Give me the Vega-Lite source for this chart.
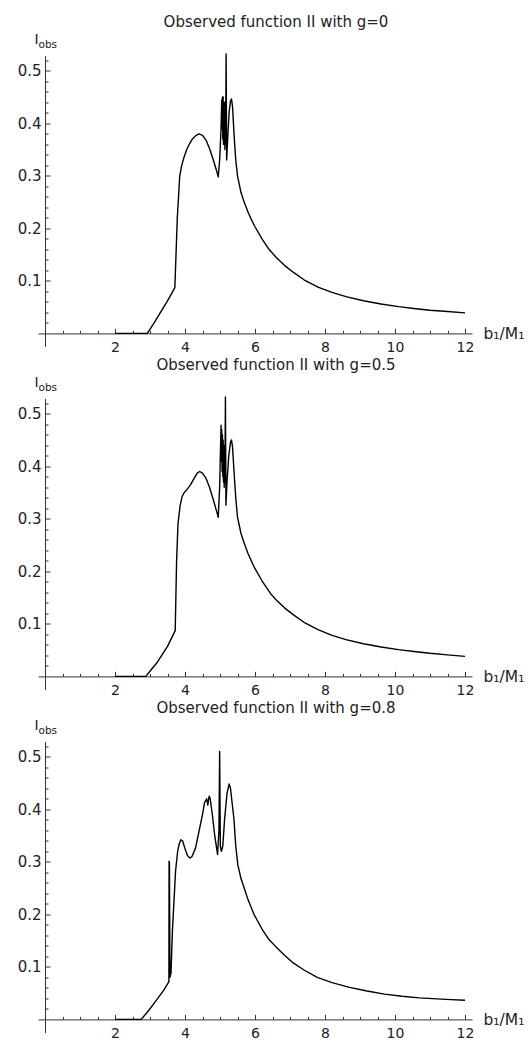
{
  "$schema": "https://vega.github.io/schema/vega-lite/v6.json",
  "padding": {"left": 17, "top": 14.5, "right": 0, "bottom": 0},
  "spacing": 52,
  "bounds": "flush",
  "config": {
    "view": {"stroke": null},
    "font": "DejaVu Sans",
    "axis": {"grid": false, "domainColor": "#333", "tickColor": "#333", "labelColor": "#222", "titleColor": "#222", "labelFont": "DejaVu Sans", "titleFont": "DejaVu Sans", "labelFlush": false, "labelOverlap": false, "titleFontWeight": "normal", "titleAngle": 0, "titleAlign": "left", "titleBaseline": "alphabetic"},
    "title": {"fontSize": 15, "fontWeight": "normal", "color": "#222", "anchor": "middle", "frame": "group", "dx": 21, "offset": 3, "baseline": "alphabetic"}
  },
  "datasets": {
    "g0": [
      {"x": 2.0, "y": 0}, {"x": 2.92, "y": 0}, {"x": 3.1, "y": 0.018}, {"x": 3.3, "y": 0.04}, {"x": 3.5, "y": 0.062}, {"x": 3.71, "y": 0.087},
      {"x": 3.78, "y": 0.22}, {"x": 3.85, "y": 0.3}, {"x": 3.9, "y": 0.318}, {"x": 3.97, "y": 0.335}, {"x": 4.05, "y": 0.35}, {"x": 4.12, "y": 0.36},
      {"x": 4.2, "y": 0.369}, {"x": 4.3, "y": 0.376}, {"x": 4.4, "y": 0.38}, {"x": 4.5, "y": 0.377}, {"x": 4.6, "y": 0.368}, {"x": 4.7, "y": 0.352},
      {"x": 4.8, "y": 0.332}, {"x": 4.9, "y": 0.31}, {"x": 4.95, "y": 0.298}, {"x": 4.99, "y": 0.33}, {"x": 5.03, "y": 0.39}, {"x": 5.05, "y": 0.445},
      {"x": 5.06, "y": 0.39}, {"x": 5.07, "y": 0.45}, {"x": 5.08, "y": 0.37}, {"x": 5.09, "y": 0.45}, {"x": 5.1, "y": 0.36}, {"x": 5.11, "y": 0.44},
      {"x": 5.12, "y": 0.36}, {"x": 5.13, "y": 0.44}, {"x": 5.14, "y": 0.35}, {"x": 5.15, "y": 0.43}, {"x": 5.16, "y": 0.36}, {"x": 5.175, "y": 0.532},
      {"x": 5.19, "y": 0.33}, {"x": 5.22, "y": 0.37}, {"x": 5.26, "y": 0.42}, {"x": 5.3, "y": 0.443}, {"x": 5.33, "y": 0.446}, {"x": 5.36, "y": 0.43},
      {"x": 5.4, "y": 0.38}, {"x": 5.45, "y": 0.33}, {"x": 5.5, "y": 0.3}, {"x": 5.6, "y": 0.268}, {"x": 5.7, "y": 0.248}, {"x": 5.8, "y": 0.231},
      {"x": 5.9, "y": 0.216}, {"x": 6.0, "y": 0.203}, {"x": 6.2, "y": 0.18}, {"x": 6.4, "y": 0.16}, {"x": 6.6, "y": 0.145}, {"x": 6.85, "y": 0.129},
      {"x": 7.1, "y": 0.116}, {"x": 7.4, "y": 0.102}, {"x": 7.8, "y": 0.088}, {"x": 8.2, "y": 0.078}, {"x": 8.6, "y": 0.07}, {"x": 9.1, "y": 0.062},
      {"x": 9.6, "y": 0.056}, {"x": 10.1, "y": 0.051}, {"x": 10.6, "y": 0.047}, {"x": 11.0, "y": 0.044}, {"x": 11.5, "y": 0.0415}, {"x": 12.0, "y": 0.039}
    ],
    "g05": [
      {"x": 2.0, "y": 0}, {"x": 2.88, "y": 0}, {"x": 3.05, "y": 0.014}, {"x": 3.21, "y": 0.027}, {"x": 3.5, "y": 0.057}, {"x": 3.72, "y": 0.087},
      {"x": 3.76, "y": 0.22}, {"x": 3.8, "y": 0.29}, {"x": 3.86, "y": 0.325}, {"x": 3.92, "y": 0.343}, {"x": 3.98, "y": 0.35}, {"x": 4.06, "y": 0.356},
      {"x": 4.16, "y": 0.365}, {"x": 4.26, "y": 0.377}, {"x": 4.35, "y": 0.387}, {"x": 4.42, "y": 0.39}, {"x": 4.5, "y": 0.387}, {"x": 4.6, "y": 0.377},
      {"x": 4.7, "y": 0.36}, {"x": 4.8, "y": 0.338}, {"x": 4.9, "y": 0.315}, {"x": 4.95, "y": 0.303}, {"x": 4.99, "y": 0.36}, {"x": 5.03, "y": 0.478},
      {"x": 5.04, "y": 0.41}, {"x": 5.05, "y": 0.47}, {"x": 5.06, "y": 0.39}, {"x": 5.07, "y": 0.46}, {"x": 5.08, "y": 0.38}, {"x": 5.09, "y": 0.45},
      {"x": 5.1, "y": 0.37}, {"x": 5.11, "y": 0.44}, {"x": 5.12, "y": 0.36}, {"x": 5.13, "y": 0.43}, {"x": 5.14, "y": 0.37}, {"x": 5.155, "y": 0.532},
      {"x": 5.17, "y": 0.326}, {"x": 5.2, "y": 0.37}, {"x": 5.25, "y": 0.42}, {"x": 5.3, "y": 0.446}, {"x": 5.33, "y": 0.45}, {"x": 5.36, "y": 0.435},
      {"x": 5.4, "y": 0.39}, {"x": 5.45, "y": 0.34}, {"x": 5.5, "y": 0.303}, {"x": 5.6, "y": 0.272}, {"x": 5.7, "y": 0.252}, {"x": 5.8, "y": 0.234},
      {"x": 5.9, "y": 0.219}, {"x": 6.0, "y": 0.205}, {"x": 6.2, "y": 0.182}, {"x": 6.45, "y": 0.157}, {"x": 6.6, "y": 0.146}, {"x": 6.85, "y": 0.13},
      {"x": 7.1, "y": 0.117}, {"x": 7.4, "y": 0.103}, {"x": 7.8, "y": 0.089}, {"x": 8.2, "y": 0.078}, {"x": 8.6, "y": 0.07}, {"x": 9.1, "y": 0.062},
      {"x": 9.6, "y": 0.056}, {"x": 10.1, "y": 0.051}, {"x": 10.6, "y": 0.047}, {"x": 11.0, "y": 0.044}, {"x": 11.5, "y": 0.041}, {"x": 12.0, "y": 0.038}
    ],
    "g08": [
      {"x": 2.0, "y": 0}, {"x": 2.75, "y": 0}, {"x": 2.95, "y": 0.016}, {"x": 3.12, "y": 0.031}, {"x": 3.4, "y": 0.056}, {"x": 3.54, "y": 0.072},
      {"x": 3.545, "y": 0.301}, {"x": 3.555, "y": 0.298}, {"x": 3.57, "y": 0.08}, {"x": 3.6, "y": 0.088}, {"x": 3.64, "y": 0.168}, {"x": 3.73, "y": 0.282},
      {"x": 3.79, "y": 0.32}, {"x": 3.83, "y": 0.333}, {"x": 3.88, "y": 0.342}, {"x": 3.93, "y": 0.34}, {"x": 4.0, "y": 0.325}, {"x": 4.07, "y": 0.312},
      {"x": 4.14, "y": 0.307}, {"x": 4.2, "y": 0.31}, {"x": 4.3, "y": 0.326}, {"x": 4.4, "y": 0.358}, {"x": 4.5, "y": 0.39}, {"x": 4.56, "y": 0.413},
      {"x": 4.62, "y": 0.42}, {"x": 4.65, "y": 0.408}, {"x": 4.69, "y": 0.425}, {"x": 4.72, "y": 0.42}, {"x": 4.78, "y": 0.39}, {"x": 4.85, "y": 0.35},
      {"x": 4.93, "y": 0.314}, {"x": 4.97, "y": 0.36}, {"x": 4.99, "y": 0.51}, {"x": 5.01, "y": 0.33}, {"x": 5.04, "y": 0.32}, {"x": 5.08, "y": 0.33},
      {"x": 5.13, "y": 0.38}, {"x": 5.2, "y": 0.43}, {"x": 5.26, "y": 0.448}, {"x": 5.3, "y": 0.44}, {"x": 5.35, "y": 0.41}, {"x": 5.4, "y": 0.38},
      {"x": 5.45, "y": 0.33}, {"x": 5.51, "y": 0.294}, {"x": 5.6, "y": 0.268}, {"x": 5.69, "y": 0.25}, {"x": 5.8, "y": 0.228}, {"x": 5.97, "y": 0.2},
      {"x": 6.2, "y": 0.172}, {"x": 6.4, "y": 0.152}, {"x": 6.6, "y": 0.138}, {"x": 6.83, "y": 0.123}, {"x": 7.1, "y": 0.107}, {"x": 7.4, "y": 0.094},
      {"x": 7.78, "y": 0.08}, {"x": 8.2, "y": 0.07}, {"x": 8.7, "y": 0.061}, {"x": 9.2, "y": 0.054}, {"x": 9.7, "y": 0.048}, {"x": 10.2, "y": 0.044},
      {"x": 10.7, "y": 0.041}, {"x": 11.2, "y": 0.039}, {"x": 11.6, "y": 0.0375}, {"x": 12.0, "y": 0.0365}
    ]
  },
  "vconcat": [
    {
      "width": 434, "height": 291,
      "title": {"text": "Observed function II with g=0"},
      "data": {"name": "g0"},
      "resolve": {"axis": {"x": "independent", "y": "independent"}},
      "layer": [
        {
          "mark": {"type": "line", "color": "#000", "strokeWidth": 1.4, "strokeJoin": "round"},
          "encoding": {
            "x": {"field": "x", "type": "quantitative", "scale": {"domain": [-0.2, 12.2], "nice": false, "zero": false},
              "axis": {"orient": "bottom", "offset": -13.1, "values": [2, 4, 6, 8, 10, 12], "format": "d", "tickSize": -5, "labelPadding": 12.5, "labelFontSize": 14, "labelBaseline": "top",
                "title": "b₁/M₁", "titleX": 445, "titleY": 5, "titleFontSize": 15.5}},
            "y": {"field": "y", "type": "quantitative", "scale": {"domain": [-0.025, 0.529], "nice": false, "zero": false},
              "axis": {"orient": "left", "offset": -7, "values": [0.1, 0.2, 0.3, 0.4, 0.5], "format": ".1f", "tickSize": -5, "labelPadding": 9, "labelFontSize": 15,
                "title": "I", "titleX": -11, "titleY": -12, "titleFontSize": 14}}
          }
        },
        {
          "mark": {"type": "line", "opacity": 0},
          "encoding": {
            "x": {"field": "x", "type": "quantitative",
              "axis": {"orient": "bottom", "offset": -13.1, "values": [0.5, 1, 1.5, 2.5, 3, 3.5, 4.5, 5, 5.5, 6.5, 7, 7.5, 8.5, 9, 9.5, 10.5, 11, 11.5], "tickSize": -3, "labels": false, "domain": false, "title": null}},
            "y": {"field": "y", "type": "quantitative",
              "axis": {"orient": "left", "offset": -7, "values": [0.02, 0.04, 0.06, 0.08, 0.12, 0.14, 0.16, 0.18, 0.22, 0.24, 0.26, 0.28, 0.32, 0.34, 0.36, 0.38, 0.42, 0.44, 0.46, 0.48, 0.52], "tickSize": -3, "labels": false, "domain": false,
                "title": "obs", "titleX": -7, "titleY": -8, "titleFontSize": 10.5}}
          }
        }
      ]
    },
    {
      "width": 434, "height": 291,
      "title": {"text": "Observed function II with g=0.5"},
      "data": {"name": "g05"},
      "resolve": {"axis": {"x": "independent", "y": "independent"}},
      "layer": [
        {
          "mark": {"type": "line", "color": "#000", "strokeWidth": 1.4, "strokeJoin": "round"},
          "encoding": {
            "x": {"field": "x", "type": "quantitative", "scale": {"domain": [-0.2, 12.2], "nice": false, "zero": false},
              "axis": {"orient": "bottom", "offset": -13.1, "values": [2, 4, 6, 8, 10, 12], "format": "d", "tickSize": -5, "labelPadding": 12.5, "labelFontSize": 14, "labelBaseline": "top",
                "title": "b₁/M₁", "titleX": 445, "titleY": 5, "titleFontSize": 15.5}},
            "y": {"field": "y", "type": "quantitative", "scale": {"domain": [-0.025, 0.529], "nice": false, "zero": false},
              "axis": {"orient": "left", "offset": -7, "values": [0.1, 0.2, 0.3, 0.4, 0.5], "format": ".1f", "tickSize": -5, "labelPadding": 9, "labelFontSize": 15,
                "title": "I", "titleX": -11, "titleY": -12, "titleFontSize": 14}}
          }
        },
        {
          "mark": {"type": "line", "opacity": 0},
          "encoding": {
            "x": {"field": "x", "type": "quantitative",
              "axis": {"orient": "bottom", "offset": -13.1, "values": [0.5, 1, 1.5, 2.5, 3, 3.5, 4.5, 5, 5.5, 6.5, 7, 7.5, 8.5, 9, 9.5, 10.5, 11, 11.5], "tickSize": -3, "labels": false, "domain": false, "title": null}},
            "y": {"field": "y", "type": "quantitative",
              "axis": {"orient": "left", "offset": -7, "values": [0.02, 0.04, 0.06, 0.08, 0.12, 0.14, 0.16, 0.18, 0.22, 0.24, 0.26, 0.28, 0.32, 0.34, 0.36, 0.38, 0.42, 0.44, 0.46, 0.48, 0.52], "tickSize": -3, "labels": false, "domain": false,
                "title": "obs", "titleX": -7, "titleY": -8, "titleFontSize": 10.5}}
          }
        }
      ]
    },
    {
      "width": 434, "height": 291,
      "title": {"text": "Observed function II with g=0.8"},
      "data": {"name": "g08"},
      "resolve": {"axis": {"x": "independent", "y": "independent"}},
      "layer": [
        {
          "mark": {"type": "line", "color": "#000", "strokeWidth": 1.4, "strokeJoin": "round"},
          "encoding": {
            "x": {"field": "x", "type": "quantitative", "scale": {"domain": [-0.2, 12.2], "nice": false, "zero": false},
              "axis": {"orient": "bottom", "offset": -13.1, "values": [2, 4, 6, 8, 10, 12], "format": "d", "tickSize": -5, "labelPadding": 12.5, "labelFontSize": 14, "labelBaseline": "top",
                "title": "b₁/M₁", "titleX": 445, "titleY": 5, "titleFontSize": 15.5}},
            "y": {"field": "y", "type": "quantitative", "scale": {"domain": [-0.025, 0.529], "nice": false, "zero": false},
              "axis": {"orient": "left", "offset": -7, "values": [0.1, 0.2, 0.3, 0.4, 0.5], "format": ".1f", "tickSize": -5, "labelPadding": 9, "labelFontSize": 15,
                "title": "I", "titleX": -11, "titleY": -12, "titleFontSize": 14}}
          }
        },
        {
          "mark": {"type": "line", "opacity": 0},
          "encoding": {
            "x": {"field": "x", "type": "quantitative",
              "axis": {"orient": "bottom", "offset": -13.1, "values": [0.5, 1, 1.5, 2.5, 3, 3.5, 4.5, 5, 5.5, 6.5, 7, 7.5, 8.5, 9, 9.5, 10.5, 11, 11.5], "tickSize": -3, "labels": false, "domain": false, "title": null}},
            "y": {"field": "y", "type": "quantitative",
              "axis": {"orient": "left", "offset": -7, "values": [0.02, 0.04, 0.06, 0.08, 0.12, 0.14, 0.16, 0.18, 0.22, 0.24, 0.26, 0.28, 0.32, 0.34, 0.36, 0.38, 0.42, 0.44, 0.46, 0.48, 0.52], "tickSize": -3, "labels": false, "domain": false,
                "title": "obs", "titleX": -7, "titleY": -8, "titleFontSize": 10.5}}
          }
        }
      ]
    }
  ]
}
